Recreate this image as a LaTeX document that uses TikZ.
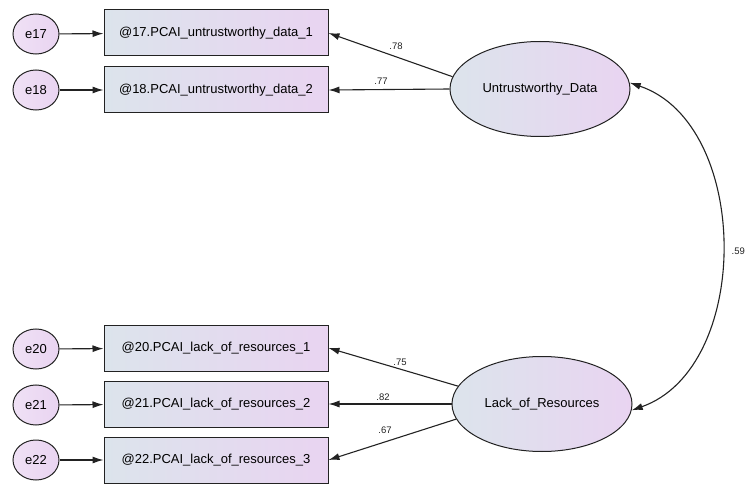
\documentclass[tikz,border=0pt]{standalone}
\usepackage{fontspec}
\setmainfont{Liberation Sans}
\usetikzlibrary{arrows.meta,shapes.geometric}
\definecolor{lc}{HTML}{DCE4EC}
\definecolor{rc}{HTML}{E9D4F1}
\definecolor{ln}{HTML}{222222}
\tikzset{
  obs/.style={draw=ln, line width=1pt, left color=lc, right color=rc, minimum width=224pt, minimum height=46pt, inner sep=0pt, font=\fontsize{13}{15}\selectfont},
  lat/.style={draw=ln, line width=1pt, ellipse, left color=lc, right color=rc, minimum width=180pt, minimum height=95pt, inner sep=0pt, font=\fontsize{13}{15}\selectfont},
  err/.style={draw=ln, line width=1pt, ellipse, left color=rc!70!white, right color=rc, minimum width=46pt, minimum height=40pt, inner sep=0pt, font=\fontsize{13}{15}\selectfont},
  arr/.style={draw=ln, line width=1.1pt, -{Latex[length=11pt,width=7pt]}},
  lbl/.style={font=\fontsize{9.5}{11}\selectfont, text=ln, inner sep=0pt}
}
\begin{document}
\begin{tikzpicture}[x=1pt,y=1pt]
\useasboundingbox (0,0) rectangle (745,483);
% observed
\node[obs] (b17) at (216,450) {@17.PCAI\_untrustworthy\_data\_1};
\node[obs] (b18) at (216,393) {@18.PCAI\_untrustworthy\_data\_2};
\node[obs] (b20) at (216,135) {@20.PCAI\_lack\_of\_resources\_1};
\node[obs] (b21) at (216,79) {@21.PCAI\_lack\_of\_resources\_2};
\node[obs] (b22) at (216,23) {@22.PCAI\_lack\_of\_resources\_3};
% errors
\node[err] (e17) at (36,449) {e17};
\node[err] (e18) at (36,393) {e18};
\node[err] (e20) at (36,134) {e20};
\node[err] (e21) at (36,78) {e21};
\node[err] (e22) at (36,23) {e22};
% latent
\node[lat] (U) at (540,394) {Untrustworthy\_Data};
\node[lat] (L) at (542,79) {Lack\_of\_Resources};
% error arrows
\draw[arr] (e17) -- (b17);
\draw[arr] (e18) -- (b18);
\draw[arr] (e20) -- (b20);
\draw[arr] (e21) -- (b21);
\draw[arr] (e22) -- (b22);
% loadings
\draw[arr] (U.172) -- (b17.east);
\draw[arr] (U.west) -- (b18.east);
\draw[arr] (L.168) -- (b20.east);
\draw[arr] (L.west) -- (b21.east);
\draw[arr] (L.190) -- (b22.east);
\node[lbl] (l78) at (396,437) {.78};
\node[lbl] (l77) at (381,402) {.77};
\node[lbl] (l75) at (400,121) {.75};
\node[lbl] (l82) at (383,86) {.82};
\node[lbl] (l67) at (385,53) {.67};
% covariance
\draw[draw=ln, line width=1.1pt, {Latex[length=11pt,width=7pt]}-{Latex[length=11pt,width=7pt]}] (L.-4) to[bend right=71] (U.4);
\node[lbl, anchor=west] (l59) at (731.5,232) {.59};
\end{tikzpicture}
\end{document}
